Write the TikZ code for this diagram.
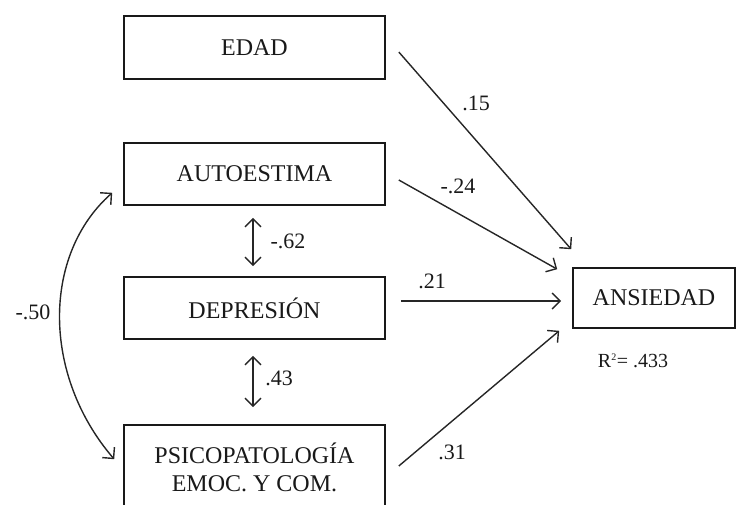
\documentclass[tikz,border=0pt]{standalone}
\usepackage{fontspec}
\setmainfont{Liberation Serif}
\usetikzlibrary{arrows.meta}
\begin{document}
\begin{tikzpicture}[x=1pt,y=-1pt,
  box/.style={draw=black!90,line width=1.6pt,rectangle,inner sep=0pt,
    font=\fontsize{24}{30}\selectfont,text=black!90},
  lbl/.style={font=\fontsize{22}{26}\selectfont,text=black!90,inner sep=0pt},
  path/.style={draw=black!85,line width=1.4pt,-{Straight Barb[length=8pt,width=16pt]}},
  both/.style={draw=black!85,line width=1.4pt,{Straight Barb[length=8pt,width=16pt]}-{Straight Barb[length=8pt,width=16pt]}}]
\useasboundingbox (0,0) rectangle (736,504);
\clip (0,0) rectangle (736,504);

% variables
\node[box,minimum width=261pt,minimum height=63pt] (edad) at (254.5,47.5) {EDAD};
\node[box,minimum width=261pt,minimum height=62pt] (auto) at (254.5,174) {AUTOESTIMA};
\node[box,minimum width=261pt,minimum height=62pt] (dep) at (254.5,308) {DEPRESIÓN};
\node[box,minimum width=261pt,minimum height=84pt,align=center] (psico) at (254.5,467)
  {PSICOPATOLOGÍA\\[-2pt]EMOC. Y COM.};
\node[box,minimum width=162pt,minimum height=60pt] (ans) at (654,298) {ANSIEDAD};

% direct effects on anxiety
\draw[path] ([shift={(13,4.5)}]edad.east) -- ([shift={(-1,-18)}]ans.north west);
\draw[path] ([shift={(13,6)}]auto.east) -- ([shift={(-15,2)}]ans.north west);
\draw[path] ([shift={(15,-7)}]dep.east) -- ([shift={(-11,3)}]ans.west);
\draw[path] ([shift={(13,-1)}]psico.east) -- ([shift={(-13,2)}]ans.south west);

% correlations between predictors
\draw[both] ([shift={(-1.5,12)}]auto.south) -- ([shift={(-1.5,-10)}]dep.north);
\draw[both] ([shift={(-1.5,16)}]dep.south) -- ([shift={(-1.5,-17)}]psico.north);
\draw[both] ([shift={(-11,-13)}]auto.south west) .. controls (42,255) and (42,375) .. ([shift={(-9,35)}]psico.north west);

% coefficients
\node[lbl] (l15) at (476,103) {.15};
\node[lbl] (l24) at (458,186) {-.24};
\node[lbl] (l21) at (432,281) {.21};
\node[lbl] (l31) at (452,452) {.31};
\node[lbl] (l62) at (288,241) {-.62};
\node[lbl] (l43) at (279,378) {.43};
\node[lbl] (l50) at (33,312) {-.50};
\node[lbl,font=\fontsize{20}{24}\selectfont] (r2) at (633,361) {R\textsuperscript{\fontsize{10}{12}\selectfont 2}= .433};
\end{tikzpicture}
\end{document}
